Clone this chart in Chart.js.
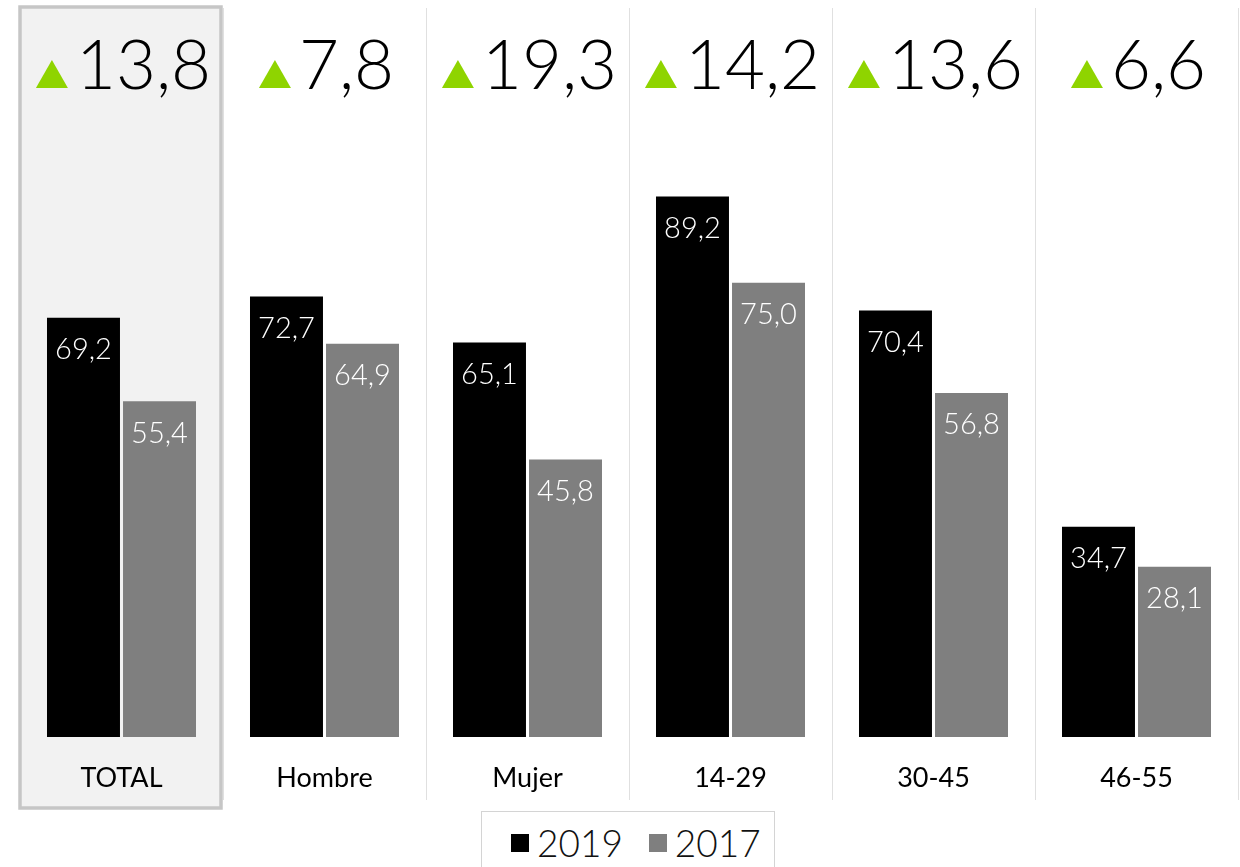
<!DOCTYPE html>
<html>
<head>
<meta charset="utf-8">
<script src="https://cdn.jsdelivr.net/npm/chart.js@4"></script>
<style>
  html, body { margin: 0; padding: 0; background: #fff; }
  #wrap { position: relative; width: 1240px; height: 867px; overflow: hidden; }
  #legend {
    position: absolute; left: 481px; top: 811px; width: 294px; height: 60px;
    border: 1px solid #d4d4d4; box-sizing: border-box; background: #fff;
    font-family: "Lato", "DejaVu Sans", sans-serif; font-weight: 300; font-size: 37px; color: #111;
    display: flex; align-items: flex-start; padding: 8px 0 0 29px;
  }
  #legend span.sw { display: inline-block; width: 18px; height: 18px; margin: 14px 8px 0 0; }
  #legend .item { display: flex; align-items: flex-start; margin-right: 26px; }
</style>
</head>
<body>
<div id="wrap">
  <canvas id="c" width="1240" height="867"></canvas>
  <div id="legend">
    <div class="item"><span class="sw" style="background:#000"></span>2019</div>
    <div class="item"><span class="sw" style="background:#7f7f7f"></span>2017</div>
  </div>
</div>
<script>
// values
const categories = ["TOTAL", "Hombre", "Mujer", "14-29", "30-45", "46-55"];
const values2019 = [69.2, 72.7, 65.1, 89.2, 70.4, 34.7];
const values2017 = [55.4, 64.9, 45.8, 75.0, 56.8, 28.1];
const deltas = [13.8, 7.8, 19.3, 14.2, 13.6, 6.6];

const FONT = "'Lato', 'DejaVu Sans', sans-serif";
const fmt = (v) => v.toFixed(1).replace(".", ",");

// background box for TOTAL, thin column separators, big deltas, category labels
const decorPlugin = {
  id: "decor",
  beforeDatasetsDraw(chart) {
    const { ctx, scales } = chart;
    const x = scales.x;
    const half = (x.getPixelForValue(1) - x.getPixelForValue(0)) / 2;
    ctx.save();
    // highlighted first column
    ctx.fillStyle = "#f2f2f2";
    ctx.strokeStyle = "#c6c6c6";
    ctx.lineWidth = 3.5;
    const x0 = x.getPixelForValue(0) - half;
    ctx.fillRect(x0, 7, 2 * half - 2, 801);
    ctx.strokeRect(x0, 7, 2 * half - 2, 801);
    // separators
    ctx.strokeStyle = "#e0e0e0";
    ctx.lineWidth = 1;
    for (let i = 1; i <= categories.length; i++) {
      const px = Math.round(x.getPixelForValue(i) - half) + 0.5;
      ctx.beginPath();
      ctx.moveTo(px, 8);
      ctx.lineTo(px, 800);
      ctx.stroke();
    }
    ctx.restore();
  },
  afterDatasetsDraw(chart) {
    const { ctx, scales } = chart;
    const x = scales.x;
    ctx.save();
    // category labels
    ctx.fillStyle = "#000";
    ctx.font = `400 27px ${FONT}`;
    ctx.textAlign = "center";
    ctx.textBaseline = "alphabetic";
    categories.forEach((c, i) => ctx.fillText(c, x.getPixelForValue(i), 787));

    // delta headers: green triangle + number
    ctx.font = `300 69px ${FONT}`;
    deltas.forEach((d, i) => {
      const txt = fmt(d);
      const tw = ctx.measureText(txt).width;
      const triW = 32, gap = 8;
      const total = triW + gap + tw;
      const left = x.getPixelForValue(i) - total / 2 + 2;
      ctx.fillStyle = "#8fd400";
      ctx.beginPath();
      ctx.moveTo(left, 88);
      ctx.lineTo(left + triW, 88);
      ctx.lineTo(left + triW / 2, 60);
      ctx.closePath();
      ctx.fill();
      ctx.fillStyle = "#000";
      ctx.textAlign = "left";
      ctx.fillText(txt, left + triW + gap, 89);
    });

    // value labels inside bars
    ctx.font = `300 29px ${FONT}`;
    ctx.fillStyle = "#fff";
    ctx.textAlign = "center";
    ctx.textBaseline = "middle";
    chart.data.datasets.forEach((ds, di) => {
      chart.getDatasetMeta(di).data.forEach((bar, i) => {
        ctx.fillText(fmt(ds.data[i]), bar.x, bar.y + 32);
      });
    });
    ctx.restore();
  },
};

new Chart(document.getElementById("c"), {
  type: "bar",
  data: {
    labels: categories,
    datasets: [
      { label: "2019", data: values2019, backgroundColor: "#000000" },
      { label: "2017", data: values2017, backgroundColor: "#7f7f7f" },
    ],
  },
  options: {
    responsive: false,
    animation: false,
    devicePixelRatio: 1,
    layout: { padding: { left: 20, right: 2, top: 10, bottom: 130 } },
    datasets: { bar: { categoryPercentage: 0.749, barPercentage: 0.96 } },
    scales: {
      x: { display: false },
      y: { display: false, min: 0, max: 120 },
    },
    plugins: { legend: { display: false }, tooltip: { enabled: false } },
  },
  plugins: [decorPlugin],
});
</script>
</body>
</html>
